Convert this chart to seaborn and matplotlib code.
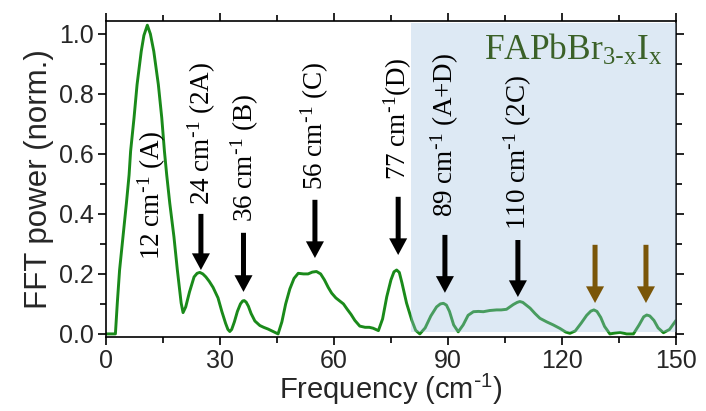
import numpy as np
import pandas as pd
import matplotlib
matplotlib.use("Agg")
import matplotlib.pyplot as plt
from matplotlib.ticker import MultipleLocator
import seaborn as sns

# ---------------- data ----------------
freq = [0, 2.5, 3.0, 3.6, 4.5, 5.4, 6.1, 6.5, 7.4, 8.2, 9.3, 10.0, 10.9, 11.7, 12.6,
        13.8, 14.7, 15.4, 16.0, 16.8, 17.9, 18.8, 19.8, 20.3, 21.0, 22.0, 23.2, 24.0,
        24.7, 25.5, 26.3, 27.2, 28.2, 29.5, 30.5, 31.5, 32.1, 32.6, 33.1, 33.8, 34.6,
        35.4, 36.0, 36.4, 36.9, 37.5, 38.2, 39.2, 40.5, 41.5, 42.7, 44.0, 45.3, 46.3,
        47.3, 48.4, 49.5, 50.6, 52.0, 53.2, 54.3, 55.4, 56.5, 57.5, 58.5, 59.4, 60.5,
        61.5, 62.5, 63.5, 64.5, 65.5, 66.8, 68.2, 69.3, 70.3, 71.7, 72.8, 73.9, 75.0,
        75.8, 76.5, 77.2, 77.9, 79.1, 80.5, 81.5, 82.6, 84.0, 85.5, 87.0, 88.0, 88.8,
        89.6, 90.4, 91.5, 92.7, 94.0, 95.3, 96.7, 98.0, 99.3, 101.0, 102.8, 104.0,
        105.4, 107.2, 108.2, 108.9, 109.7, 110.5, 111.6, 112.9, 114.2, 116.0, 117.7,
        119.5, 121.0, 122.1, 123.5, 125.0, 126.5, 127.6, 128.4, 129.2, 130.2, 131.2,
        132.6, 134.0, 135.3, 137.0, 138.8, 140.3, 141.5, 142.3, 143.1, 144.2, 145.3,
        146.7, 148.3, 150.0]
power = [0.0, 0.0, 0.103, 0.213, 0.324, 0.436, 0.53, 0.609, 0.72, 0.831, 0.942, 0.995,
         1.029, 1.0, 0.942, 0.831, 0.72, 0.609, 0.53, 0.436, 0.324, 0.213, 0.103, 0.071,
         0.09, 0.14, 0.19, 0.202, 0.205, 0.2, 0.19, 0.175, 0.155, 0.12, 0.075, 0.035,
         0.015, 0.008, 0.015, 0.04, 0.075, 0.1, 0.11, 0.111, 0.106, 0.092, 0.068, 0.043,
         0.028, 0.022, 0.016, 0.008, 0.0, 0.04, 0.10, 0.15, 0.185, 0.202, 0.20, 0.20,
         0.206, 0.208, 0.20, 0.18, 0.155, 0.136, 0.12, 0.11, 0.10, 0.082, 0.065, 0.045,
         0.026, 0.022, 0.022, 0.019, 0.011, 0.05, 0.124, 0.18, 0.207, 0.213, 0.205,
         0.17, 0.103, 0.045, 0.012, 0.0, 0.02, 0.06, 0.09, 0.1, 0.102, 0.096, 0.075,
         0.03, 0.007, 0.03, 0.062, 0.074, 0.075, 0.074, 0.078, 0.08, 0.08, 0.082, 0.098,
         0.105, 0.108, 0.105, 0.097, 0.086, 0.068, 0.052, 0.04, 0.03, 0.018, 0.006,
         0.002, 0.01, 0.035, 0.062, 0.076, 0.08, 0.075, 0.055, 0.025, 0.0, 0.003, 0.005,
         0.0, 0.0, 0.03, 0.057, 0.063, 0.06, 0.045, 0.02, 0.004, 0.015, 0.045]

mode_labels = [r"12 cm$^{\text{-}1}$ (A)", r"24 cm$^{\text{-}1}$ (2A)",
               r"36 cm$^{\text{-}1}$ (B)", r"56 cm$^{\text{-}1}$ (C)",
               r"77 cm$^{\text{-}1}$(D)", r"89 cm$^{\text{-}1}$ (A+D)",
               r"110 cm$^{\text{-}1}$ (2C)"]
label_x = [12.1, 25.2, 36.6, 55.0, 76.9, 89.2, 108.4]
label_y = [0.247, 0.43, 0.373, 0.48, 0.513, 0.39, 0.347]

arrow_x = [25.0, 36.2, 55.0, 76.9, 89.2, 108.4, 128.7, 142.1]
arrow_tail = [0.40, 0.337, 0.447, 0.457, 0.33, 0.313, 0.297, 0.297]
arrow_tip = [0.213, 0.14, 0.253, 0.263, 0.137, 0.123, 0.103, 0.103]
arrow_col = ["black"] * 6 + ["#7a5608"] * 2

xticks = [0, 30, 60, 90, 120, 150]
yticks = [0.0, 0.2, 0.4, 0.6, 0.8, 1.0]

# ---------------- style ----------------
sns.set_theme(style="ticks")
plt.rcParams["font.family"] = ["Liberation Sans", "DejaVu Sans"]
plt.rcParams["mathtext.default"] = "regular"

fig = plt.figure(figsize=(7.06, 4.11), dpi=100)
ax = fig.add_axes([0.150, 0.181, 0.8075, 0.7686])

df = pd.DataFrame({"Frequency": freq, "Power": power})

# shaded region
ax.fill_between([80.3, 150], 0.006, 1.037, color="#9ec0e0", alpha=0.35,
                linewidth=0, zorder=3)

sns.lineplot(data=df, x="Frequency", y="Power", sort=False, ax=ax,
             color="#1a8a1a", linewidth=2.1, zorder=2)

serif = ["Liberation Serif", "DejaVu Serif"]
for t, x, y in zip(mode_labels, label_x, label_y):
    ax.text(x, y, t, rotation=90, ha="center", va="bottom", fontsize=19.5,
            family=serif, color="black", zorder=5)

for x, y0, y1, c in zip(arrow_x, arrow_tail, arrow_tip, arrow_col):
    ax.annotate("", xy=(x, y1), xytext=(x, y0),
                arrowprops=dict(width=3.6, headwidth=13, headlength=12,
                                color=c, shrink=0, linewidth=0),
                zorder=5)

ax.text(146.6, 0.945, r"FAPbBr$_{3\text{-}x}$I$_x$", ha="right", va="center",
        fontsize=25.5, color="#3b6128", family=serif, zorder=5)

ax.set_xlim(0, 150)
ax.set_ylim(-0.009, 1.044)
ax.set_xticks(xticks)
ax.set_yticks(yticks)
ax.set_xticklabels([str(v) for v in xticks])
ax.set_yticklabels([f"{v:.1f}" for v in yticks])
ax.xaxis.set_minor_locator(MultipleLocator(15))
ax.yaxis.set_minor_locator(MultipleLocator(0.1))
ax.tick_params(which="both", direction="out", top=True, right=True,
               labeltop=False, labelright=False, width=1.2, color="black")
ax.tick_params(which="major", length=6, labelsize=18, pad=3)
ax.tick_params(which="minor", length=4)
for s in ax.spines.values():
    s.set_linewidth(1.2)
    s.set_color("black")

ax.set_xlabel(r"Frequency (cm$^{\text{-}1}$)", fontsize=21, labelpad=-1)
ax.set_ylabel("FFT power (norm.)", fontsize=22.5, labelpad=3)

fig.savefig("out.png", dpi=100)
